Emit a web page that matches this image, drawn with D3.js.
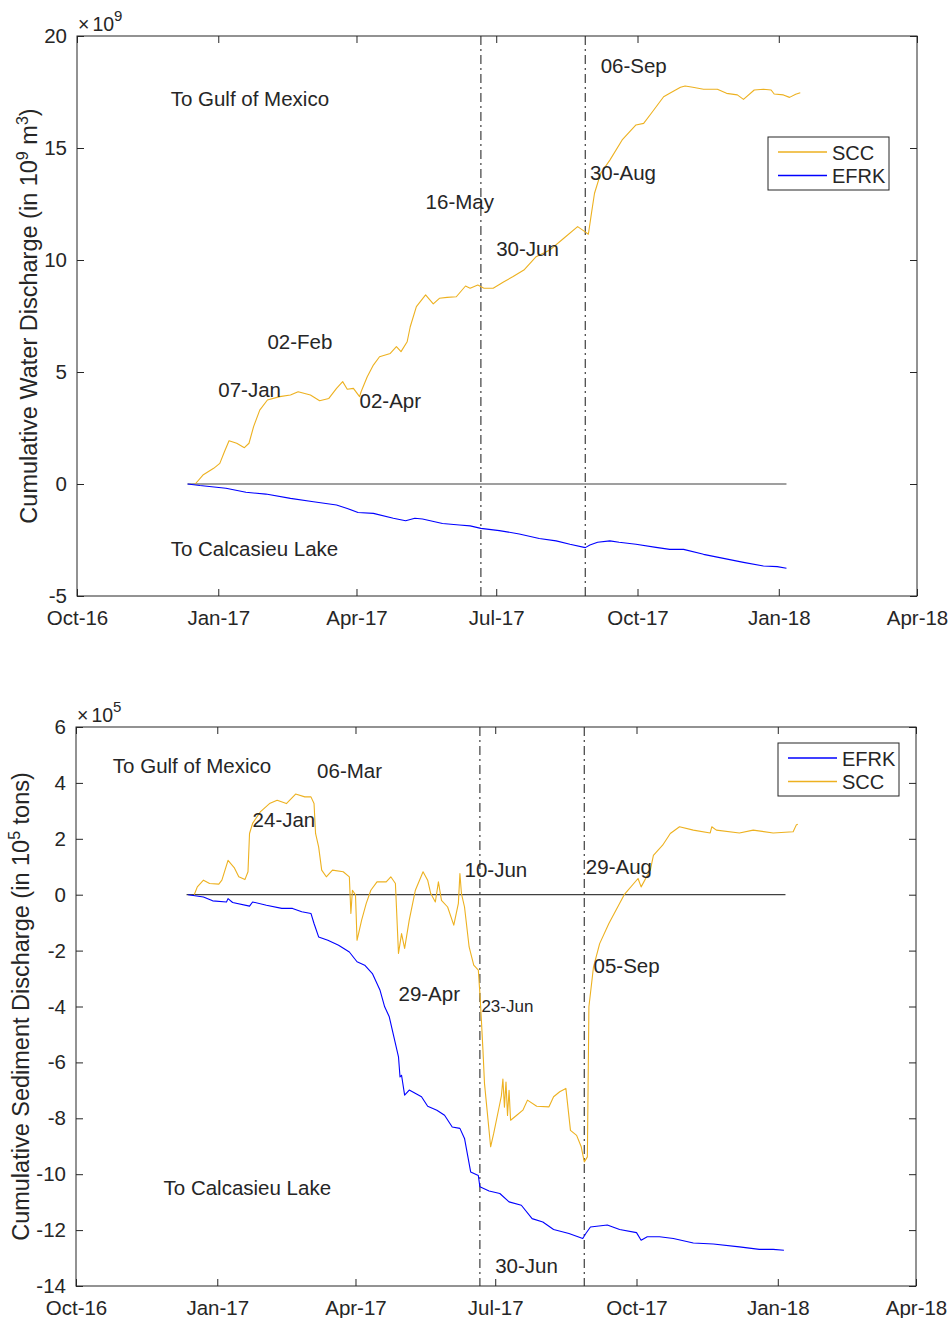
<!DOCTYPE html>
<html>
<head>
<meta charset="utf-8">
<script src="https://cdn.jsdelivr.net/npm/d3@7"></script>
<style>
  body { margin: 0; background: #fff; }
  svg text { font-family: 'Liberation Sans', Arial, Helvetica, sans-serif; fill: #262626; font-size: 20.5px; }
  svg text.small { font-size: 17px; }
  svg text.expo { font-size: 19.5px; }
  svg text.ylabel { font-size: 23.5px; }
</style>
</head>
<body>
<svg id="chart" width="950" height="1318"></svg>
<script>
// x axis
var xTickDates = ['2016-10-01', '2017-01-01', '2017-04-01', '2017-07-01', '2017-10-01', '2018-01-01', '2018-04-01'];
var xTickLabels = ['Oct-16', 'Jan-17', 'Apr-17', 'Jul-17', 'Oct-17', 'Jan-18', 'Apr-18'];
var eventDates = ['2017-06-21', '2017-08-28'];
var zeroLineDates = ['2016-12-12', '2018-01-06'];

// water discharge (x 10^9 m^3)
var waterYTicks = [-5, 0, 5, 10, 15, 20];
var sccWaterDates = ['2016-12-17', '2016-12-22', '2016-12-29', '2017-01-02', '2017-01-05', '2017-01-08', '2017-01-13', '2017-01-18', '2017-01-21', '2017-01-24', '2017-01-28', '2017-02-02', '2017-02-10', '2017-02-17', '2017-02-22', '2017-03-02', '2017-03-08', '2017-03-14', '2017-03-19', '2017-03-23', '2017-03-26', '2017-03-30', '2017-04-03', '2017-04-04', '2017-04-08', '2017-04-12', '2017-04-16', '2017-04-23', '2017-04-27', '2017-04-30', '2017-05-04', '2017-05-06', '2017-05-10', '2017-05-16', '2017-05-21', '2017-05-25', '2017-05-30', '2017-06-05', '2017-06-11', '2017-06-14', '2017-06-19', '2017-06-23', '2017-06-29', '2017-07-06', '2017-07-12', '2017-07-19', '2017-07-27', '2017-08-05', '2017-08-14', '2017-08-23', '2017-08-27', '2017-08-30', '2017-09-01', '2017-09-03', '2017-09-07', '2017-09-13', '2017-09-21', '2017-09-30', '2017-10-05', '2017-10-10', '2017-10-18', '2017-10-22', '2017-10-29', '2017-11-01', '2017-11-06', '2017-11-13', '2017-11-22', '2017-11-28', '2017-12-05', '2017-12-09', '2017-12-16', '2017-12-22', '2017-12-27', '2017-12-29', '2018-01-04', '2018-01-08', '2018-01-12', '2018-01-15'];
var sccWaterValues = [0, 0.40, 0.70, 0.92, 1.44, 1.93, 1.82, 1.62, 1.82, 2.56, 3.30, 3.75, 3.90, 3.97, 4.12, 3.97, 3.72, 3.82, 4.27, 4.57, 4.23, 4.27, 3.90, 4.12, 4.79, 5.31, 5.68, 5.83, 6.13, 5.91, 6.35, 7.02, 7.92, 8.44, 8.04, 8.29, 8.33, 8.36, 8.84, 8.74, 8.88, 8.74, 8.74, 9.03, 9.26, 9.55, 10.15, 10.45, 10.97, 11.49, 11.30, 11.15, 12.08, 12.98, 13.87, 14.46, 15.36, 16.03, 16.10, 16.55, 17.29, 17.44, 17.71, 17.77, 17.71, 17.62, 17.62, 17.44, 17.37, 17.17, 17.59, 17.62, 17.59, 17.41, 17.37, 17.26, 17.40, 17.47];
var efrkWaterDates = ['2016-12-12', '2016-12-20', '2017-01-06', '2017-01-19', '2017-02-01', '2017-02-17', '2017-03-04', '2017-03-19', '2017-03-26', '2017-04-02', '2017-04-12', '2017-04-25', '2017-05-03', '2017-05-09', '2017-05-14', '2017-05-27', '2017-06-07', '2017-06-14', '2017-06-21', '2017-07-03', '2017-07-16', '2017-07-29', '2017-08-09', '2017-08-18', '2017-08-28', '2017-08-31', '2017-09-05', '2017-09-13', '2017-09-19', '2017-09-30', '2017-10-13', '2017-10-22', '2017-10-31', '2017-11-13', '2017-11-26', '2017-12-09', '2017-12-22', '2017-12-31', '2018-01-06'];
var efrkWaterValues = [0, -0.07, -0.19, -0.37, -0.45, -0.64, -0.79, -0.94, -1.09, -1.27, -1.31, -1.53, -1.64, -1.53, -1.56, -1.76, -1.83, -1.87, -1.98, -2.08, -2.23, -2.43, -2.54, -2.69, -2.84, -2.72, -2.60, -2.54, -2.60, -2.69, -2.83, -2.92, -2.92, -3.14, -3.32, -3.50, -3.66, -3.69, -3.76];
var waterNoteLabels = ['To Gulf of Mexico', '06-Sep', '30-Aug', '16-May', '30-Jun', '02-Feb', '07-Jan', '02-Apr', 'To Calcasieu Lake'];
var waterNoteDates = ['2016-12-01', '2017-09-07', '2017-08-31', '2017-05-16', '2017-07-01', '2017-02-02', '2017-01-01', '2017-04-03', '2016-12-01'];
var waterNoteValues = [16.88, 18.36, 13.57, 12.26, 10.18, 6.01, 3.87, 3.38, -3.21];

// sediment discharge (x 10^5 tons)
var sedYTicks = [-14, -12, -10, -8, -6, -4, -2, 0, 2, 4, 6];
var sccSedDates = ['2016-12-17', '2016-12-19', '2016-12-23', '2016-12-27', '2017-01-02', '2017-01-04', '2017-01-08', '2017-01-12', '2017-01-15', '2017-01-19', '2017-01-21', '2017-01-22', '2017-01-24', '2017-01-29', '2017-02-04', '2017-02-09', '2017-02-15', '2017-02-21', '2017-02-27', '2017-03-03', '2017-03-05', '2017-03-06', '2017-03-08', '2017-03-10', '2017-03-13', '2017-03-17', '2017-03-24', '2017-03-28', '2017-03-29', '2017-03-30', '2017-04-01', '2017-04-02', '2017-04-05', '2017-04-08', '2017-04-11', '2017-04-15', '2017-04-21', '2017-04-24', '2017-04-27', '2017-04-29', '2017-05-01', '2017-05-03', '2017-05-06', '2017-05-10', '2017-05-15', '2017-05-18', '2017-05-20', '2017-05-23', '2017-05-25', '2017-05-27', '2017-05-31', '2017-06-04', '2017-06-07', '2017-06-08', '2017-06-09', '2017-06-11', '2017-06-14', '2017-06-17', '2017-06-20', '2017-06-21', '2017-06-22', '2017-06-23', '2017-06-24', '2017-06-28', '2017-06-30', '2017-07-04', '2017-07-05', '2017-07-06', '2017-07-07', '2017-07-08', '2017-07-09', '2017-07-10', '2017-07-11', '2017-07-15', '2017-07-19', '2017-07-22', '2017-07-28', '2017-08-05', '2017-08-08', '2017-08-12', '2017-08-16', '2017-08-19', '2017-08-23', '2017-08-26', '2017-08-28', '2017-08-30', '2017-08-31', '2017-09-03', '2017-09-07', '2017-09-13', '2017-09-23', '2017-10-02', '2017-10-04', '2017-10-10', '2017-10-12', '2017-10-18', '2017-10-23', '2017-10-29', '2017-11-07', '2017-11-18', '2017-11-19', '2017-11-22', '2017-12-07', '2017-12-16', '2017-12-29', '2018-01-11', '2018-01-13', '2018-01-14'];
var sccSedValues = [0, 0.28, 0.52, 0.40, 0.38, 0.52, 1.23, 0.97, 0.64, 0.54, 0.82, 2.19, 2.55, 2.96, 3.26, 3.38, 3.26, 3.60, 3.50, 3.50, 3.26, 2.19, 1.71, 0.88, 0.64, 0.88, 0.82, 0.64, -0.67, 0.16, 0, -1.63, -0.91, -0.31, 0.16, 0.46, 0.46, 0.64, 0.40, -2.10, -1.39, -1.92, -0.91, 0.16, 0.82, 0.52, 0.04, -0.26, 0.46, -0.20, -0.44, -1.09, -0.31, 0.76, 0.04, -0.44, -1.87, -2.52, -2.70, -3.53, -4.50, -5.56, -6.75, -9.02, -8.54, -7.47, -7.20, -6.60, -7.60, -6.70, -7.90, -7.00, -8.07, -7.89, -7.71, -7.35, -7.57, -7.59, -7.23, -7.05, -6.93, -8.43, -8.61, -9.02, -9.56, -9.38, -4.01, -2.58, -1.75, -1.03, 0, 0.58, 0.28, 0.88, 1.41, 1.77, 2.19, 2.43, 2.31, 2.21, 2.43, 2.31, 2.21, 2.31, 2.21, 2.25, 2.49, 2.52];
var efrkSedDates = ['2016-12-13', '2016-12-23', '2016-12-29', '2017-01-07', '2017-01-08', '2017-01-11', '2017-01-22', '2017-01-24', '2017-02-02', '2017-02-12', '2017-02-19', '2017-02-25', '2017-03-03', '2017-03-05', '2017-03-08', '2017-03-14', '2017-03-21', '2017-03-28', '2017-04-02', '2017-04-07', '2017-04-12', '2017-04-17', '2017-04-20', '2017-04-23', '2017-04-26', '2017-04-29', '2017-04-30', '2017-05-01', '2017-05-03', '2017-05-06', '2017-05-14', '2017-05-18', '2017-05-24', '2017-05-29', '2017-06-03', '2017-06-08', '2017-06-11', '2017-06-13', '2017-06-15', '2017-06-20', '2017-06-21', '2017-06-27', '2017-07-04', '2017-07-10', '2017-07-18', '2017-07-25', '2017-08-01', '2017-08-08', '2017-08-18', '2017-08-27', '2017-08-29', '2017-09-01', '2017-09-12', '2017-09-20', '2017-10-01', '2017-10-04', '2017-10-08', '2017-10-16', '2017-10-25', '2017-11-07', '2017-11-20', '2017-12-07', '2017-12-20', '2017-12-29', '2018-01-05'];
var efrkSedValues = [0, -0.08, -0.22, -0.26, -0.14, -0.28, -0.41, -0.26, -0.38, -0.49, -0.49, -0.61, -0.67, -1.03, -1.51, -1.63, -1.81, -2.05, -2.40, -2.52, -2.82, -3.42, -4.01, -4.37, -5.09, -5.80, -6.52, -6.46, -7.17, -6.99, -7.23, -7.57, -7.71, -7.89, -8.31, -8.36, -8.72, -9.32, -9.92, -10.05, -10.45, -10.60, -10.69, -10.99, -11.11, -11.59, -11.71, -11.98, -12.12, -12.30, -12.12, -11.89, -11.82, -11.98, -12.09, -12.36, -12.24, -12.24, -12.30, -12.46, -12.50, -12.60, -12.69, -12.69, -12.72];
var sedNoteLabels = ['To Gulf of Mexico', '06-Mar', '24-Jan', '10-Jun', '29-Aug', '05-Sep', '29-Apr', '30-Jun', 'To Calcasieu Lake'];
var sedNoteDates = ['2016-10-25', '2017-03-07', '2017-01-24', '2017-06-11', '2017-08-29', '2017-09-03', '2017-04-29', '2017-07-01', '2016-11-27'];
var sedNoteValues = [4.36, 4.19, 2.41, 0.62, 0.73, -2.80, -3.80, -13.55, -10.73];
var sedSmallNoteLabels = ['23-Jun'];
var sedSmallNoteDates = ['2017-06-22'];
var sedSmallNoteValues = [-4.19];

(function () {
  'use strict';

  var parse = d3.timeParse('%Y-%m-%d');
  var SCC_COLOR = '#EDB120';
  var EFRK_COLOR = '#0000FF';
  var INK = '#262626';
  var svg = d3.select('#chart');

  function series(name, color, dates, values) {
    return {
      name: name, color: color,
      points: dates.map(function (d, i) { return { date: parse(d), value: values[i] }; })
    };
  }

  function notes(labels, dates, values) {
    return labels.map(function (l, i) { return { text: l, date: parse(dates[i]), value: values[i] }; });
  }

  function drawPanel(p) {
    var x = d3.scaleTime()
      .domain([parse(xTickDates[0]), parse(xTickDates[xTickDates.length - 1])])
      .range([0, p.width]);
    var y = d3.scaleLinear().domain(p.yDomain).range([p.height, 0]);
    var tickDates = xTickDates.map(parse);

    var g = svg.append('g').attr('transform', 'translate(' + p.left + ',' + p.top + ')');

    // axes, ticks pointing inward on all four sides
    g.append('g').attr('transform', 'translate(0,' + p.height + ')')
      .call(d3.axisBottom(x).tickValues(tickDates)
        .tickFormat(function (d, i) { return xTickLabels[i]; })
        .tickSize(-7).tickPadding(14));
    g.append('g')
      .call(d3.axisTop(x).tickValues(tickDates).tickFormat('').tickSize(-7));
    g.append('g')
      .call(d3.axisLeft(y).tickValues(p.yTicks)
        .tickFormat(function (d) { return String(d); })
        .tickSize(-7).tickPadding(10));
    g.append('g').attr('transform', 'translate(' + p.width + ',0)')
      .call(d3.axisRight(y).tickValues(p.yTicks).tickFormat('').tickSize(-7));
    g.selectAll('.domain').remove();
    g.selectAll('.tick line').attr('stroke', INK);

    // event lines
    eventDates.forEach(function (d) {
      g.append('line')
        .attr('x1', x(parse(d))).attr('x2', x(parse(d)))
        .attr('y1', 0).attr('y2', p.height)
        .attr('stroke', '#4d4d4d').attr('stroke-width', 1.3)
        .attr('stroke-dasharray', '9,4,2,4');
    });

    // zero reference
    g.append('line')
      .attr('x1', x(parse(zeroLineDates[0]))).attr('x2', x(parse(zeroLineDates[1])))
      .attr('y1', y(0)).attr('y2', y(0))
      .attr('stroke', '#404040').attr('stroke-width', 1.2);

    var line = d3.line()
      .x(function (d) { return x(d.date); })
      .y(function (d) { return y(d.value); });

    p.series.forEach(function (s) {
      g.append('path').datum(s.points)
        .attr('d', line)
        .attr('fill', 'none')
        .attr('stroke', s.color)
        .attr('stroke-width', 1.1)
        .attr('stroke-linejoin', 'round');
    });

    // box
    g.append('rect')
      .attr('width', p.width).attr('height', p.height)
      .attr('fill', 'none').attr('stroke', INK).attr('stroke-width', 1);

    // annotations
    p.notes.forEach(function (n) {
      g.append('text')
        .attr('x', x(n.date)).attr('y', y(n.value))
        .attr('class', n.small ? 'small' : null)
        .text(n.text);
    });

    // legend
    var lg = g.append('g').attr('transform', 'translate(' + p.legendX + ',' + p.legendY + ')');
    lg.append('rect').attr('width', 121).attr('height', 53)
      .attr('fill', '#fff').attr('stroke', INK).attr('stroke-width', 1);
    p.legend.forEach(function (s, i) {
      var ly = 15 + i * 23.5;
      lg.append('line').attr('x1', 10).attr('x2', 59).attr('y1', ly).attr('y2', ly)
        .attr('stroke', s.color).attr('stroke-width', 1.3);
      lg.append('text').attr('x', 64).attr('y', ly + 7.5).style('font-size', '20px').text(s.name);
    });

    // exponent
    var ex = g.append('text').attr('class', 'expo').attr('x', 1).attr('y', -5.3);
    ex.append('tspan').style('font-size', '19.5px').text('\u00d7');
    ex.append('tspan').attr('dx', 3).style('font-size', '19.5px').text('10');
    ex.append('tspan').attr('dy', -9.5).style('font-size', '15px').text(p.exponent);

    // y label
    var yl = g.append('text')
      .attr('class', 'ylabel')
      .attr('transform', 'translate(' + p.ylabelX + ',' + (p.height / 2) + ') rotate(-90)')
      .attr('text-anchor', 'middle');
    p.ylabel.forEach(function (part) {
      var t = yl.append('tspan').text(part[0]);
      if (part[1] === 'sup') t.attr('dy', -9).style('font-size', '16px');
      if (part[1] === 'down') t.attr('dy', 9);
    });
  }

  drawPanel({
    left: 77, top: 36, width: 840, height: 560,
    yDomain: [-5, 20], yTicks: waterYTicks,
    series: [
      series('SCC', SCC_COLOR, sccWaterDates, sccWaterValues),
      series('EFRK', EFRK_COLOR, efrkWaterDates, efrkWaterValues)
    ],
    legend: [{ name: 'SCC', color: SCC_COLOR }, { name: 'EFRK', color: EFRK_COLOR }],
    legendX: 691, legendY: 101,
    notes: notes(waterNoteLabels, waterNoteDates, waterNoteValues),
    exponent: '9',
    ylabelX: -40,
    ylabel: [['Cumulative Water Discharge (in 10'], ['9', 'sup'], [' m', 'down'], ['3', 'sup'], [')', 'down']]
  });

  var sedNotes = notes(sedNoteLabels, sedNoteDates, sedNoteValues)
    .concat(notes(sedSmallNoteLabels, sedSmallNoteDates, sedSmallNoteValues)
      .map(function (n) { n.small = true; return n; }));

  drawPanel({
    left: 76, top: 727, width: 840, height: 559,
    yDomain: [-14, 6], yTicks: sedYTicks,
    series: [
      series('EFRK', EFRK_COLOR, efrkSedDates, efrkSedValues),
      series('SCC', SCC_COLOR, sccSedDates, sccSedValues)
    ],
    legend: [{ name: 'EFRK', color: EFRK_COLOR }, { name: 'SCC', color: SCC_COLOR }],
    legendX: 702, legendY: 16,
    notes: sedNotes,
    exponent: '5',
    ylabelX: -47.5,
    ylabel: [['Cumulative Sediment Discharge (in 10'], ['5', 'sup'], [' tons)', 'down']]
  });
})();
</script>
</body>
</html>
